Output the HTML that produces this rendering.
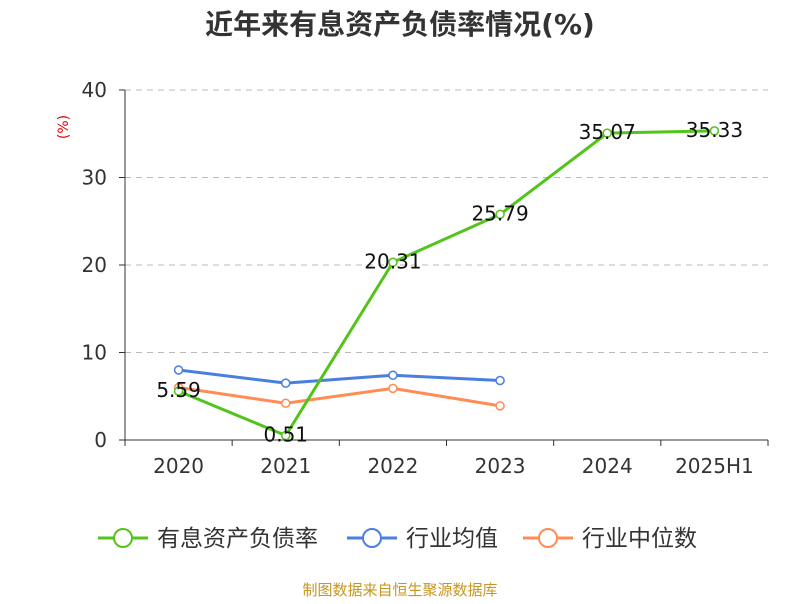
<!DOCTYPE html>
<html><head><meta charset="utf-8"><style>
body{margin:0;background:#fff;font-family:"DejaVu Sans","Noto Sans CJK SC",sans-serif;}
</style></head><body>
<svg width="800" height="600" xmlns="http://www.w3.org/2000/svg" id="chart" font-family="DejaVu Sans, Noto Sans CJK SC, sans-serif">
<text x="400" y="34" text-anchor="middle" font-size="28" font-weight="bold" fill="#333">近年来有息资产负债率情况(%)</text>
<text x="68" y="127" text-anchor="middle" font-size="14" fill="#e00" transform="rotate(-90 68 127)">(%)</text>
<g id="grid"></g><g id="axes"></g><g id="series"></g>
<g>
<g><line x1="98" y1="538" x2="148" y2="538" stroke="#52c41a" stroke-width="3"/><circle cx="123" cy="538" r="9" fill="#fff" stroke="#52c41a" stroke-width="2"/><text x="157" y="546" font-size="23" fill="#333">有息资产负债率</text></g>
<g><line x1="347" y1="538" x2="397" y2="538" stroke="#4a7fe0" stroke-width="3"/><circle cx="372" cy="538" r="9" fill="#fff" stroke="#4a7fe0" stroke-width="2"/><text x="406" y="546" font-size="23" fill="#333">行业均值</text></g>
<g><line x1="523" y1="538" x2="573" y2="538" stroke="#ff8c55" stroke-width="3"/><circle cx="548" cy="538" r="9" fill="#fff" stroke="#ff8c55" stroke-width="2"/><text x="582" y="546" font-size="23" fill="#333">行业中位数</text></g>
</g>
<text x="400" y="595" text-anchor="middle" font-size="15" fill="#c8961e">制图数据来自恒生聚源数据库</text>
</svg>
<script>
const categories=["2020","2021","2022","2023","2024","2025H1"];
const debtRatio=[5.59,0.51,20.31,25.79,35.07,35.33];
const industryMean=[8.0,6.5,7.4,6.8];
const industryMedian=[6.0,4.2,5.9,3.9];
const yTicks=[0,10,20,30,40];
const NS="http://www.w3.org/2000/svg";
const x0=125,x1=768,y0=440,yTop=90,yMax=40;
const bw=(x1-x0)/categories.length;
const xs=i=>x0+bw*(i+0.5);
const ys=v=>y0-(v/yMax)*(y0-yTop);
function mk(tag,attrs,parent){const e=document.createElementNS(NS,tag);for(const k in attrs)e.setAttribute(k,attrs[k]);parent.appendChild(e);return e;}
const grid=document.getElementById('grid'),axes=document.getElementById('axes'),ser=document.getElementById('series');
yTicks.forEach(t=>{
 if(t>0){const g=mk('line',{x1:x0,x2:x1,y1:ys(t),y2:ys(t),stroke:'#bbb','stroke-dasharray':'6,5'},grid);
 
 }
 const tk=mk('line',{x1:x0-6,x2:x0,y1:ys(t),y2:ys(t),stroke:'#333'},axes);
 
 
 const tl=mk('text',{x:x0-18,y:ys(t)+7,'text-anchor':'end','font-size':20,fill:'#333'},axes);tl.textContent=t;
 
 
});
const ya=mk('line',{x1:x0,x2:x0,y1:yTop,y2:y0,stroke:'#333'},axes);


const xa=mk('line',{x1:x0,x2:x1,y1:y0,y2:y0,stroke:'#333'},axes);


for(let i=0;i<=categories.length;i++){const tk=mk('line',{x1:x0+bw*i,x2:x0+bw*i,y1:y0,y2:y0+6,stroke:'#333'},axes);
 
 }
categories.forEach((c,i)=>{const t=mk('text',{x:xs(i),y:473,'text-anchor':'middle','font-size':20,fill:'#333'},axes);t.textContent=c;
 
 });
function drawSeries(vals,color,name,labels){
 const p=mk('polyline',{points:vals.map((v,i)=>xs(i)+','+ys(v)).join(' '),fill:'none',stroke:color,'stroke-width':3},ser);
 
 
 vals.forEach((v,i)=>{const c=mk('circle',{cx:xs(i),cy:ys(v),r:4,fill:'#fff',stroke:color,'stroke-width':1.5},ser);
 
 
 if(labels){const t=mk('text',{x:xs(i),y:ys(v)+6,'text-anchor':'middle','font-size':20,fill:'#111'},ser);t.textContent=v.toFixed(2);
 
 }});
}
drawSeries(industryMean,'#4a7fe0','industry-mean',false);
drawSeries(industryMedian,'#ff8c55','industry-median',false);
drawSeries(debtRatio,'#52c41a','debt-ratio',true);
</script>
</body></html>
